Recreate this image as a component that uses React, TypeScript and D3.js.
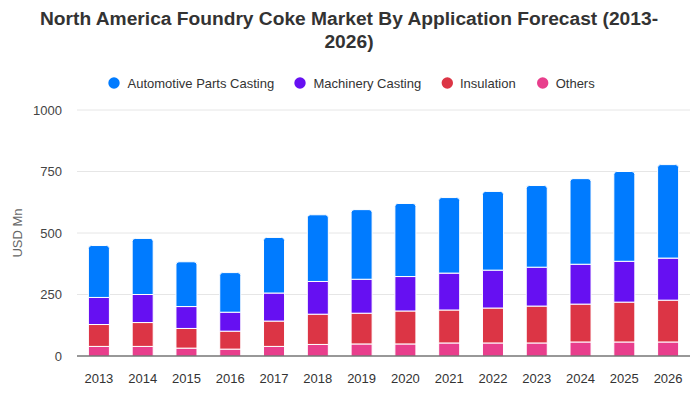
import React from "react";
import * as d3 from "d3";

const years = ["2013","2014","2015","2016","2017","2018","2019","2020","2021","2022","2023","2024","2025","2026"];
const others = [39, 39, 32, 28, 39, 47, 49, 49, 53, 53, 53, 57, 57, 57];
const insulation = [89, 97, 80, 73, 103, 123, 125, 134, 134, 142, 150, 154, 162, 170];
const machinery = [110, 114, 89, 77, 114, 133, 138, 140, 150, 154, 158, 162, 166, 171];
const automotive = [211, 228, 182, 161, 226, 271, 283, 297, 307, 320, 332, 348, 365, 380];
const seriesNames = ["Automotive Parts Casting", "Machinery Casting", "Insulation", "Others"];
const seriesColors = ["#007bff", "#6610f2", "#dc3545", "#e83e8c"];
const yTicks = [0, 250, 500, 750, 1000];

const W = 700, H = 400;
const left = 77, right = 690, top = 110, bottom = 356;
const FONT = "'Liberation Sans', Arial, sans-serif";

export default function App() {
  const x = d3.scaleBand().domain(years).range([left, right]).paddingInner(0.52).paddingOuter(0.26);
  const y = d3.scaleLinear().domain([0, 1000]).range([bottom, top]);
  const rows = years.map((yr, i) => ({
    year: yr,
    Others: others[i],
    Insulation: insulation[i],
    Machinery: machinery[i],
    Automotive: automotive[i],
  }));
  const keys = ["Others", "Insulation", "Machinery", "Automotive"];
  const colorByKey: Record<string, string> = {
    Automotive: seriesColors[0], Machinery: seriesColors[1], Insulation: seriesColors[2], Others: seriesColors[3],
  };
  const stacked = d3.stack<any>().keys(keys)(rows);
  const bw = x.bandwidth();
  const r = 3;

  const legendItems = [
    { cx: 114, tx: 127.5 },
    { cx: 300, tx: 313.5 },
    { cx: 447.3, tx: 460 },
    { cx: 542.7, tx: 555.7 },
  ];

  return (
    <svg width={W} height={H} style={{ display: "block", position: "absolute", left: 0, top: 0 }} fontFamily={FONT}>
      <rect width={W} height={H} fill="#fff" />
      <text x={349} y={25} textAnchor="middle" fontSize={19.2} fontWeight="bold" fill="#333">
        North America Foundry Coke Market By Application Forecast (2013-
      </text>
      <text x={349} y={48} textAnchor="middle" fontSize={19.2} fontWeight="bold" fill="#333">
        2026)
      </text>
      {seriesNames.map((n, i) => (
        <g key={n}>
          <circle cx={legendItems[i].cx} cy={83} r={5.7} fill={seriesColors[i]} />
          <text x={legendItems[i].tx} y={87.7} fontSize={13} fill="#333">{n}</text>
        </g>
      ))}
      {yTicks.map((t) => (
        <g key={t}>
          {t > 0 && <line x1={left} x2={right} y1={y(t)} y2={y(t)} stroke="#e6e6e6" strokeWidth={1} />}
          <text x={62} y={y(t) + 4.5} textAnchor="end" fontSize={13} fill="#444">{t}</text>
        </g>
      ))}
      <text transform={`translate(22,${(top + bottom) / 2}) rotate(-90)`} textAnchor="middle" fontSize={13} fill="#666">USD Mn</text>
      {stacked.map((s) => (
        <g key={s.key} fill={colorByKey[s.key]}>
          {s.map((d: any) => {
            const x0 = x(d.data.year)!;
            const y0 = y(d[1]);
            const y1 = y(d[0]);
            if (s.key === "Automotive") {
              const p = `M${x0},${y1} L${x0},${y0 + r} Q${x0},${y0} ${x0 + r},${y0} L${x0 + bw - r},${y0} Q${x0 + bw},${y0} ${x0 + bw},${y0 + r} L${x0 + bw},${y1} Z`;
              return <path key={d.data.year} d={p} stroke="#fff" strokeWidth={1} />;
            }
            return <rect key={d.data.year} x={x0} y={y0} width={bw} height={y1 - y0} stroke="#fff" strokeWidth={1} />;
          })}
        </g>
      ))}
      <line x1={left} x2={right} y1={bottom} y2={bottom} stroke="#333" strokeWidth={1.2} />
      {years.map((yr) => (
        <text key={yr} x={x(yr)! + bw / 2} y={383} textAnchor="middle" fontSize={13} fill="#333">{yr}</text>
      ))}
    </svg>
  );
}
